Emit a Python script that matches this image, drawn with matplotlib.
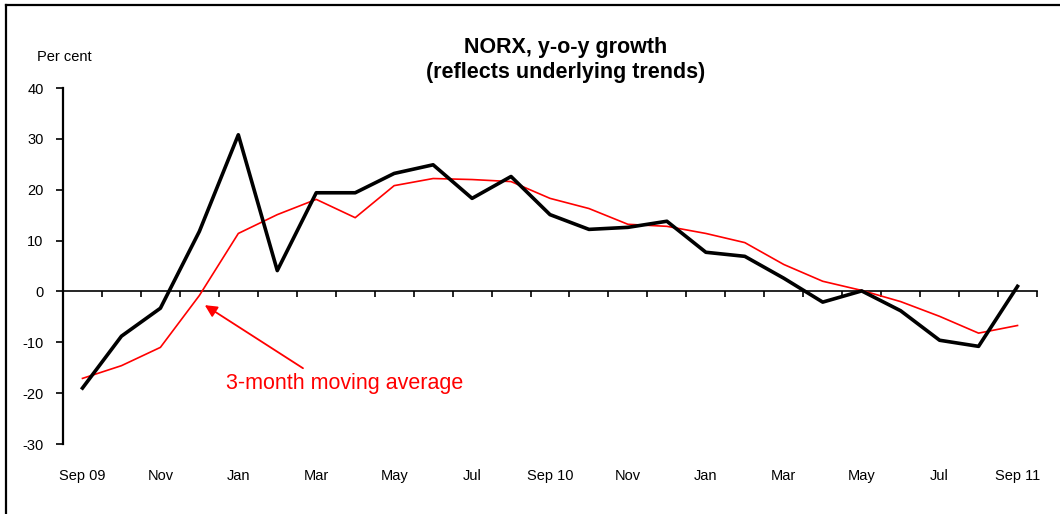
import matplotlib.pyplot as plt
from matplotlib.lines import Line2D
from matplotlib.transforms import blended_transform_factory

months = ["Sep 09", "Oct", "Nov", "Dec", "Jan", "Feb", "Mar", "Apr", "May", "Jun", "Jul", "Aug",
          "Sep 10", "Oct", "Nov", "Dec", "Jan", "Feb", "Mar", "Apr", "May", "Jun", "Jul", "Aug",
          "Sep 11"]
norx_yoy = [-19.0, -8.8, -3.3, 11.8, 30.8, 4.1, 19.4, 19.4, 23.2, 24.9, 18.3, 22.6,
            15.1, 12.2, 12.6, 13.8, 7.7, 6.9, 2.6, -2.1, 0.1, -3.8, -9.6, -10.8, 1.0]
moving_avg = [-17.1, -14.6, -11.0, -0.8, 11.4, 15.1, 18.1, 14.5, 20.8, 22.2, 22.0, 21.6,
              18.3, 16.3, 13.2, 12.8, 11.4, 9.6, 5.3, 2.0, 0.2, -2.0, -4.9, -8.2, -6.7]
y_ticks = [-30, -20, -10, 0, 10, 20, 30, 40]

plt.rcParams["font.family"] = ["Liberation Sans", "DejaVu Sans"]
plt.rcParams["axes.unicode_minus"] = False

W, H = 1060, 514
fig = plt.figure(figsize=(W / 100, H / 100), dpi=100)
ax = fig.add_axes([63 / W, 1 - 444 / H, (1037 - 63) / W, (444 - 88) / H])

x = list(range(len(months)))
ax.plot(x, moving_avg, color="#ff0000", linewidth=1.2, zorder=3)
ax.plot(x, norx_yoy, color="black", linewidth=2.6, zorder=4)

ax.set_xlim(-0.5, len(months) - 0.5)
ax.set_ylim(-30, 40)
ax.set_yticks(y_ticks)
ax.tick_params(axis="y", direction="out", length=5, width=1.2, labelsize=10.5, pad=9)

# x axis sits on zero, ticks at category boundaries
ax.spines["bottom"].set_position(("data", 0))
ax.spines["bottom"].set_linewidth(1.2)
ax.set_xticks([i - 0.5 for i in range(len(months) + 1)])
ax.set_xticklabels([])
ax.tick_params(axis="x", direction="out", length=4, width=1.2)
ax.spines["left"].set_linewidth(1.6)
ax.spines["top"].set_visible(False)
ax.spines["right"].set_visible(False)

trans = blended_transform_factory(ax.transData, ax.transAxes)
for i in range(0, len(months), 2):
    ax.text(x[i], -0.09, months[i], transform=trans, ha="center", va="center", fontsize=10.5)

ax.annotate("", xy=(3.14, -2.7), xytext=(5.66, -15.1),
            arrowprops=dict(arrowstyle="-|>", color="#ff0000", lw=1.3, mutation_scale=18,
                            shrinkA=0, shrinkB=0))
ax.text(6.73, -18.1, "3-month moving average", color="#ff0000", fontsize=15.5,
        ha="center", va="center")

fig.text(37 / W, 1 - 57 / H, "Per cent", fontsize=10.5, ha="left", va="center")
fig.text(566 / W, 1 - 47 / H, "NORX, y-o-y growth", fontsize=15.5, fontweight="bold",
         ha="center", va="center")
fig.text(566 / W, 1 - 73 / H, "(reflects underlying trends)", fontsize=15.5, fontweight="bold",
         ha="center", va="center")

# outer frame (top and left edges visible)
fig.add_artist(Line2D([6 / W, 1], [1 - 5 / H, 1 - 5 / H], transform=fig.transFigure,
                      color="black", linewidth=1.6))
fig.add_artist(Line2D([6 / W, 6 / W], [0, 1 - 5 / H], transform=fig.transFigure,
                      color="black", linewidth=1.6))

fig.savefig("out.png", dpi=100)
